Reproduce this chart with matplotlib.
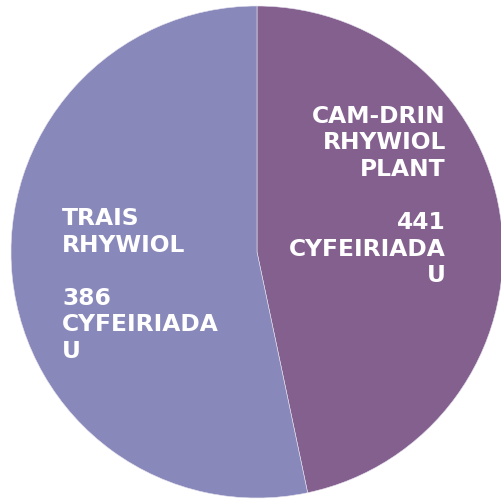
import matplotlib
matplotlib.use("Agg")
import matplotlib.pyplot as plt

# Data
categories = ["CAM-DRIN\nRHYWIOL\nPLANT", "TRAIS\nRHYWIOL"]
counts = [441, 386]                 # numbers printed in the labels
slice_share = [46.7, 53.3]          # wedge sizes as drawn in the picture (%)
unit = "CYFEIRIADA\nU"
colors = ["#84608F", "#8888BA"]

W, H = 502, 501
fig = plt.figure(figsize=(W / 100, H / 100), dpi=100)
ax = fig.add_axes([0, 0, 1, 1])
cx, cy, r = 257, 252, 246
ax.axis("off")

ax.pie(slice_share, colors=colors, startangle=90, counterclock=False,
       radius=1.0, center=(0, 0), frame=False,
       wedgeprops=dict(edgecolor="#E6E2EE", linewidth=0.4))
ax.set_xlim(-cx / r, (W - cx) / r)
ax.set_ylim(-(H - cy) / r, cy / r)
ax.set_aspect("auto")

font = dict(fontsize=16.8, fontweight="bold", color="white",
            family="DejaVu Sans", linespacing=1.2)
ax.text((446 - cx) / r, (cy - 196) / r,
        f"{categories[0]}\n\n{counts[0]}\n{unit}",
        ha="right", va="center", multialignment="right", **font)
ax.text((62 - cx) / r, (cy - 285) / r,
        f"{categories[1]}\n\n{counts[1]}\n{unit}",
        ha="left", va="center", multialignment="left", **font)

fig.savefig("out.png", dpi=100, facecolor="white")
